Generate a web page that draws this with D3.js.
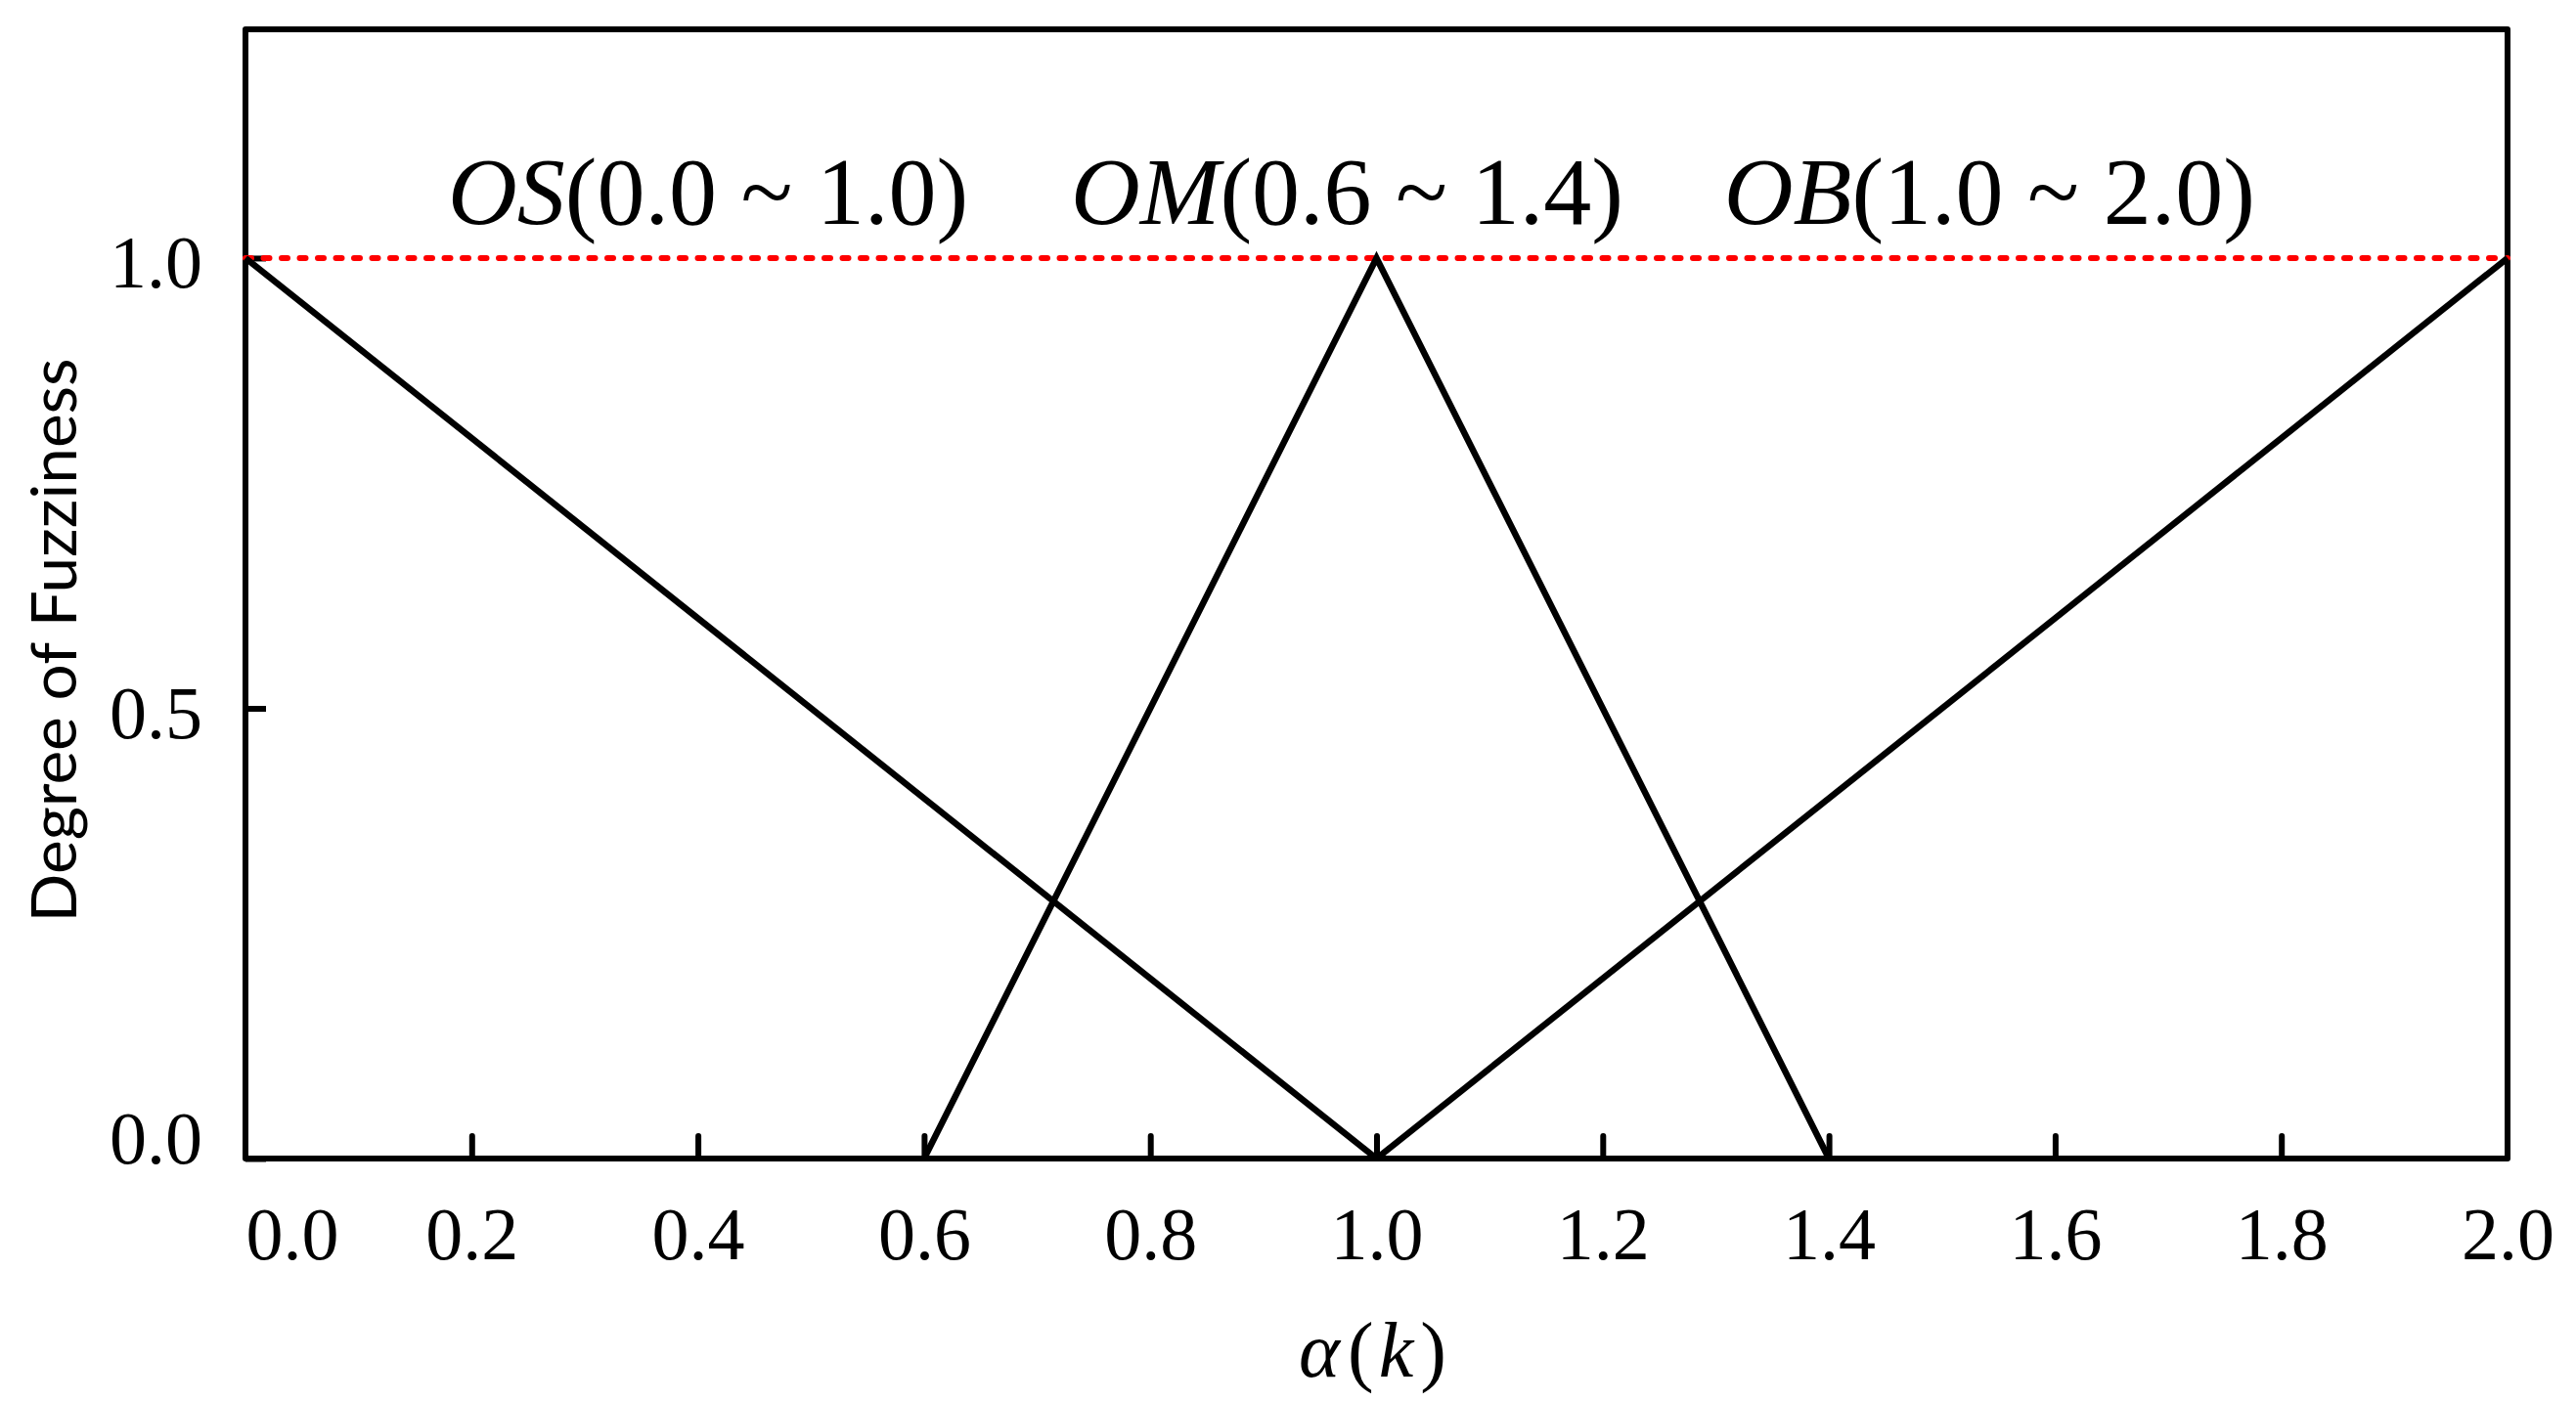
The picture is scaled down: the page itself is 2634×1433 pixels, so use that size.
<!DOCTYPE html>
<html>
<head>
<meta charset="utf-8">
<script src="https://cdn.jsdelivr.net/npm/d3@7"></script>
<style>
  html, body { margin: 0; padding: 0; background: #fff; }
  svg { display: block; }
</style>
</head>
<body>
<svg id="chart" width="2634" height="1433"></svg>
<script>
// ---- data ----
const xTicks = [0.0, 0.2, 0.4, 0.6, 0.8, 1.0, 1.2, 1.4, 1.6, 1.8, 2.0];
const yTicks = [0.0, 0.5, 1.0];
const xDomain = [0, 2];
const yDomain = [0, 1.254];
const seriesOS = [[0.0, 1.0], [1.0, 0.0]];
const seriesOM = [[0.6, 0.0], [1.0, 1.0], [1.4, 0.0]];
const seriesOB = [[1.0, 0.0], [2.0, 1.0]];
const refLine = [[0.0, 1.0], [2.0, 1.0]];
const labelNames = ["OS", "OM", "OB"];
const labelRanges = ["(0.0 ~ 1.0)", "(0.6 ~ 1.4)", "(1.0 ~ 2.0)"];
const labelCenters = [0.409, 0.974, 1.542];   // centre (x value) of each label
const labelY = 1.038;                           // baseline (y value) of labels
const yTitle = "Degree of Fuzziness";

// ---- layout ----
const svg = d3.select("#chart");
const L = 251, R = 2564, T = 30, B = 1185;
const x = d3.scaleLinear().domain(xDomain).range([L, R]);
const y = d3.scaleLinear().domain(yDomain).range([B, T]);
const serif = "'Liberation Serif', 'Times New Roman', serif";
const serifItalic = "'Liberation Serif'";

// frame
svg.append("rect")
  .attr("x", L).attr("y", T).attr("width", R - L).attr("height", B - T)
  .attr("fill", "none").attr("stroke", "#000").attr("stroke-width", 6)
  .attr("stroke-linejoin", "round");

// x axis ticks (inward) and labels
const xAxis = d3.axisBottom(x).tickValues(xTicks).tickSize(-23).tickPadding(0)
  .tickFormat(d3.format(".1f"));
const gx = svg.append("g").attr("transform", `translate(0,${B})`).call(xAxis);
gx.select(".domain").remove();
gx.selectAll(".tick line").attr("stroke", "#000").attr("stroke-width", 6)
  .attr("stroke-linecap", "round")
  .filter(d => d === xDomain[0] || d === xDomain[1]).remove();
gx.selectAll(".tick text")
  .attr("font-family", serif).attr("font-size", 76).attr("fill", "#000")
  .attr("dy", 103).attr("y", 0)
  .filter(d => d === 0).attr("text-anchor", "start");

// y axis ticks (inward) and labels
const yAxis = d3.axisLeft(y).tickValues(yTicks).tickSize(-21).tickPadding(0)
  .tickFormat(d3.format(".1f"));
const gy = svg.append("g").attr("transform", `translate(${L},0)`).call(yAxis);
gy.select(".domain").remove();
gy.selectAll(".tick line").attr("stroke", "#000").attr("stroke-width", 6);
gy.selectAll(".tick text")
  .attr("font-family", serif).attr("font-size", 76).attr("fill", "#000")
  .attr("x", -44).attr("dy", d => d === 0 ? 4 : 30);

// red dotted reference line
const line = d3.line().x(d => x(d[0])).y(d => y(d[1]));
svg.append("path").datum(refLine).attr("d", line)
  .attr("fill", "none").attr("stroke", "#ff0000").attr("stroke-width", 6)
  .attr("stroke-dasharray", "6 12.5").attr("stroke-linecap", "round");

// membership functions
[seriesOS, seriesOM, seriesOB].forEach(s => {
  svg.append("path").datum(s).attr("d", line)
    .attr("fill", "none").attr("stroke", "#000").attr("stroke-width", 6.5)
    .attr("stroke-linejoin", "miter");
});

// labels
labelNames.forEach((n, i) => {
  const t = svg.append("text")
    .attr("x", x(labelCenters[i])).attr("y", y(labelY))
    .attr("text-anchor", "middle")
    .attr("font-family", serif).attr("font-size", 98).attr("fill", "#000");
  t.append("tspan").attr("font-family", serifItalic).attr("font-style", "italic").text(n);
  t.append("tspan").text(labelRanges[i]);
});

// x title
const xt = svg.append("text").attr("x", 1328).attr("y", 1408)
  .attr("font-family", serif).attr("font-size", 80).attr("fill", "#000");
xt.append("tspan").attr("font-family", serifItalic).attr("font-style", "italic").text("α");
xt.append("tspan").attr("dx", 8).text("(");
xt.append("tspan").attr("dx", 5).attr("font-family", serifItalic).attr("font-style", "italic").text("k");
xt.append("tspan").attr("dx", 7).text(")");

// y title
svg.append("text")
  .attr("transform", `translate(78,655) rotate(-90)`)
  .attr("text-anchor", "middle")
  .attr("font-family", "Lato, 'Open Sans', sans-serif").attr("font-size", 64)
  .attr("textLength", 577).attr("lengthAdjust", "spacingAndGlyphs")
  .attr("fill", "#000").text(yTitle);
</script>
</body>
</html>
